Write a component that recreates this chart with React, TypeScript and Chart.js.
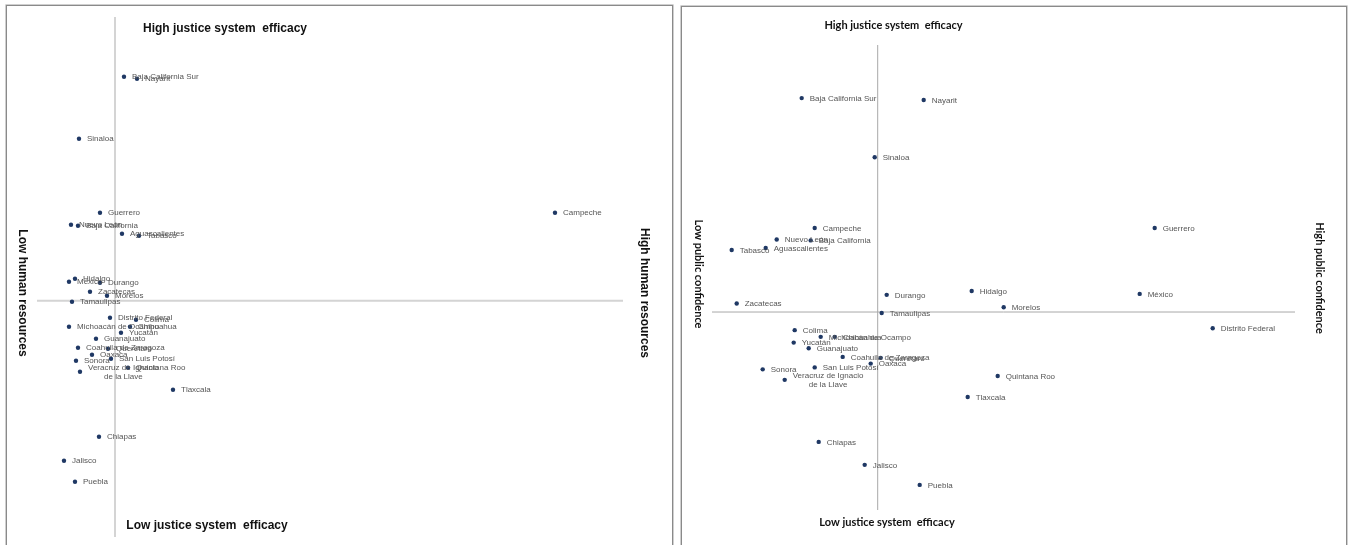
import React, { useEffect, useRef } from "react";
import { Chart, registerables } from "chart.js";

Chart.register(...registerables);

// ---------------- DATA ----------------
const states = [
  "Aguascalientes", "Baja California", "Baja California Sur", "Campeche",
  "Coahuila de Zaragoza", "Colima", "Chiapas", "Chihuahua",
  "Distrito Federal", "Durango", "Guanajuato", "Guerrero",
  "Hidalgo", "Jalisco", "México", "Michoacán de Ocampo",
  "Morelos", "Nayarit", "Nuevo León", "Oaxaca",
  "Puebla", "Querétaro", "Quintana Roo", "San Luis Potosí",
  "Sinaloa", "Sonora", "Tabasco", "Tamaulipas",
  "Tlaxcala", "Veracruz de Ignacio\nde la Llave", "Yucatán", "Zacatecas",
];

// Justice system efficacy (vertical axis of both panels)
const justiceEfficacy = [
  0.67, 0.75, 2.24, 0.88,
  -0.47, -0.19, -1.36, -0.26,
  -0.17, 0.18, -0.38, 0.88,
  0.22, -1.60, 0.19, -0.26,
  0.05, 2.22, 0.76, -0.54,
  -1.81, -0.48, -0.67, -0.58,
  1.62, -0.60, 0.65, -0.01,
  -0.89, -0.71, -0.32, 0.09,
];

// Human resources (horizontal axis, left panel)
const humanResources = [
  0.07, -0.37, 0.09, 4.40,
  -0.37, 0.21, -0.16, 0.15,
  -0.05, -0.15, -0.19, -0.15,
  -0.40, -0.51, -0.46, -0.46,
  -0.08, 0.22, -0.44, -0.23,
  -0.40, -0.07, 0.13, -0.04,
  -0.36, -0.39, 0.24, -0.43,
  0.58, -0.35, 0.06, -0.25,
];

// Public confidence (horizontal axis, right panel)
const publicConfidence = [
  -1.12, -0.67, -0.76, -0.63,
  -0.35, -0.83, -0.59, -0.43,
  3.35, 0.09, -0.69, 2.77,
  0.94, -0.13, 2.62, -0.57,
  1.26, 0.46, -1.01, -0.07,
  0.42, 0.03, 1.20, -0.63,
  -0.03, -1.15, -1.46, 0.04,
  0.90, -0.93, -0.84, -1.41,
];

const leftXRange = [-0.78, 5.08];
const leftYRange = [-2.363, 2.837];
const rightXRange = [-1.657, 4.173];
const rightYRange = [-2.073, 2.796];

const topTitle = "High justice system  efficacy";
const bottomTitle = "Low justice system  efficacy";

// ---------------- PANEL ----------------
type TitleSpec = { text: string; x: number; y: number; rotate: boolean };

type PanelProps = {
  left: number;
  width: number;
  xs: number[];
  xRange: number[];
  yRange: number[];
  padding: { left: number; right: number; top: number; bottom: number };
  lineColor: string;
  lineWidth: number;
  titleFont: string;
  titles: TitleSpec[];
};

function Panel(props: PanelProps) {
  const ref = useRef<HTMLCanvasElement | null>(null);

  useEffect(() => {
    const canvas = ref.current;
    if (!canvas) return;

    const crossPlugin = {
      id: "crossLines",
      beforeDatasetsDraw(chart: any) {
        const { ctx, chartArea, scales } = chart;
        const x0 = scales.x.getPixelForValue(0);
        const y0 = scales.y.getPixelForValue(0);
        ctx.save();
        ctx.strokeStyle = props.lineColor;
        ctx.lineWidth = props.lineWidth;
        ctx.beginPath();
        ctx.moveTo(x0, chartArea.top);
        ctx.lineTo(x0, chartArea.bottom);
        ctx.moveTo(chartArea.left, y0);
        ctx.lineTo(chartArea.right, y0);
        ctx.stroke();
        ctx.restore();
      },
    };

    const labelPlugin = {
      id: "pointLabels",
      afterDatasetsDraw(chart: any) {
        const { ctx } = chart;
        const meta = chart.getDatasetMeta(0);
        ctx.save();
        ctx.font = "8px 'Liberation Sans', Arial, sans-serif";
        ctx.fillStyle = "#555555";
        ctx.textBaseline = "middle";
        ctx.textAlign = "center";
        meta.data.forEach((pt: any, i: number) => {
          const lines = states[i].split("\n");
          const widths = lines.map((l) => ctx.measureText(l).width);
          const maxW = Math.max(...widths);
          const lh = 8.5;
          const startY = pt.y + 0.5 - ((lines.length - 1) * lh) / 2;
          lines.forEach((l, k) => {
            ctx.fillText(l, pt.x + 8 + maxW / 2, startY + k * lh);
          });
        });
        ctx.restore();
      },
    };

    const titlePlugin = {
      id: "quadrantTitles",
      afterDraw(chart: any) {
        const { ctx } = chart;
        ctx.save();
        ctx.font = props.titleFont;
        ctx.fillStyle = "#111";
        ctx.textAlign = "center";
        ctx.textBaseline = "middle";
        props.titles.forEach((t) => {
          ctx.save();
          ctx.translate(t.x, t.y);
          if (t.rotate) ctx.rotate(Math.PI / 2);
          ctx.fillText(t.text, 0, 0);
          ctx.restore();
        });
        ctx.restore();
      },
    };

    const chart = new Chart(canvas, {
      type: "scatter",
      data: {
        datasets: [
          {
            data: states.map((_, i) => ({ x: props.xs[i], y: justiceEfficacy[i] })),
            pointRadius: 2.2,
            pointBackgroundColor: "#1f3864",
            pointBorderWidth: 0,
            clip: false as any,
          },
        ],
      },
      options: {
        animation: false,
        responsive: false,
        maintainAspectRatio: false,
        events: [],
        layout: { padding: props.padding },
        plugins: {
          legend: { display: false },
          tooltip: { enabled: false },
          title: { display: false },
        },
        scales: {
          x: { type: "linear", min: props.xRange[0], max: props.xRange[1], display: false },
          y: { type: "linear", min: props.yRange[0], max: props.yRange[1], display: false },
        },
      },
      plugins: [crossPlugin, labelPlugin, titlePlugin],
    });
    return () => chart.destroy();
  }, []);

  return (
    <canvas
      ref={ref}
      width={props.width}
      height={545}
      style={{ position: "absolute", left: props.left, top: 0, width: props.width, height: 545 }}
    />
  );
}

export default function App() {
  useEffect(() => {
    document.body.style.margin = "0";
  }, []);
  const leftOff = 0;
  const rightOff = 677;
  return (
    <div
      style={{
        position: "absolute",
        left: 0,
        top: 0,
        width: 1348,
        height: 545,
        overflow: "hidden",
        background: "#fff",
      }}
    >
      <div
        style={{
          position: "absolute",
          left: 6,
          top: 5,
          width: 665,
          height: 600,
          border: "1px solid #8a8a8a",
          boxShadow: "0 0 0 0.6px #b0b0b0",
        }}
      />
      <div
        style={{
          position: "absolute",
          left: 681,
          top: 6,
          width: 664,
          height: 600,
          border: "1px solid #8a8a8a",
          boxShadow: "0 0 0 0.6px #b0b0b0",
        }}
      />
      <Panel
        left={leftOff}
        width={677}
        xs={humanResources}
        xRange={leftXRange}
        yRange={leftYRange}
        padding={{ left: 37, right: 677 - 623, top: 17, bottom: 545 - 537 }}
        lineColor="#d4d4d4"
        lineWidth={2}
        titleFont="bold 12px 'Liberation Sans', Arial, sans-serif"
        titles={[
          { text: topTitle, x: 225 - leftOff, y: 29, rotate: false },
          { text: bottomTitle, x: 207 - leftOff, y: 526, rotate: false },
          { text: "Low human resources", x: 22.5 - leftOff, y: 293, rotate: true },
          { text: "High human resources", x: 644 - leftOff, y: 293, rotate: true },
        ]}
      />
      <Panel
        left={rightOff}
        width={671}
        xs={publicConfidence}
        xRange={rightXRange}
        yRange={rightYRange}
        padding={{ left: 712 - rightOff, right: 1348 - 1295, top: 45, bottom: 545 - 510 }}
        lineColor="#a8a8a8"
        lineWidth={1}
        titleFont="bold 11px Lato, 'Open Sans', sans-serif"
        titles={[
          { text: topTitle, x: 893.5 - rightOff, y: 25, rotate: false },
          { text: bottomTitle, x: 887 - rightOff, y: 522, rotate: false },
          { text: "Low public confidence", x: 699 - rightOff, y: 274, rotate: true },
          { text: "High public confidence", x: 1320 - rightOff, y: 278, rotate: true },
        ]}
      />
    </div>
  );
}
